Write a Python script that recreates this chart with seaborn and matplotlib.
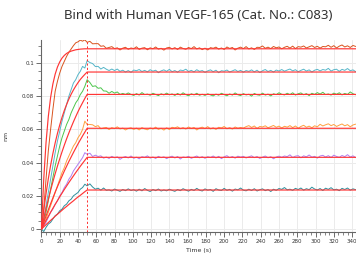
import numpy as np
import pandas as pd
import matplotlib
matplotlib.use("Agg")
import matplotlib.pyplot as plt
from matplotlib.ticker import MultipleLocator, FuncFormatter
import seaborn as sns

# ---------------- data ----------------
assoc_end = 50
t_assoc = np.arange(0, 50.01, 2.5)          # association sampling (s)
t_dis = np.arange(53, 345, 3)               # dissociation sampling (s)
t_end = 345

series_names = ["s1", "s2", "s3", "s4", "s5", "s6"]
series_colors = ["#d9531e", "#56b6c9", "#4cc64c", "#ffa040", "#b07ff0", "#2f8f9d"]

assoc_s1 = [0.000, 0.012, 0.030, 0.047, 0.060, 0.072, 0.083, 0.089, 0.094, 0.098, 0.101,
            0.104, 0.1065, 0.1085, 0.1105, 0.1122, 0.1128, 0.1138, 0.1132, 0.1140, 0.1125]
assoc_s2 = [0.000, 0.006, 0.014, 0.022, 0.030, 0.038, 0.046, 0.053, 0.059, 0.065, 0.070,
            0.075, 0.080, 0.084, 0.088, 0.090, 0.093, 0.095, 0.098, 0.097, 0.1015]
assoc_s3 = [0.000, 0.004, 0.010, 0.017, 0.024, 0.031, 0.038, 0.044, 0.050, 0.055, 0.059,
            0.063, 0.066, 0.070, 0.073, 0.076, 0.078, 0.081, 0.083, 0.086, 0.090]
assoc_s4 = [0.000, 0.002, 0.006, 0.010, 0.014, 0.018, 0.022, 0.026, 0.030, 0.034, 0.037,
            0.041, 0.044, 0.047, 0.050, 0.052, 0.055, 0.057, 0.060, 0.065, 0.063]
assoc_s5 = [0.000, 0.002, 0.004, 0.007, 0.010, 0.012, 0.015, 0.017, 0.020, 0.022, 0.025,
            0.027, 0.030, 0.032, 0.035, 0.037, 0.039, 0.041, 0.043, 0.046, 0.045]
assoc_s6 = [0.000, -0.0015, 0.001, 0.003, 0.004, 0.006, 0.008, 0.009, 0.011, 0.012, 0.014,
            0.015, 0.017, 0.018, 0.020, 0.021, 0.022, 0.024, 0.025, 0.027, 0.026]

dis_s1 = [.1131, .1116, .1117, .1117, .1101, .1104, .1089, .1094, .1099, .1087, .1092, .1079, .1090, .1095,
          .1083, .1091, .1087, .1098, .1082, .1090, .1093, .1080, .1092, .1086, .1097, .1084, .1089, .1078,
          .1091, .1095, .1085, .1093, .1082, .1096, .1088, .1083, .1094, .1087, .1099, .1085, .1092, .1081,
          .1090, .1079, .1093, .1089, .1096, .1084, .1091, .1082, .1097, .1088, .1094, .1079, .1090, .1096,
          .1087, .1099, .1085, .1092, .1082, .1095, .1094, .1103, .1089, .1096, .1087, .1100, .1092, .1097,
          .1086, .1095, .1101, .1090, .1102, .1087, .1099, .1096, .1103, .1091, .1098, .1105, .1094, .1101,
          .1090, .1100, .1098, .1107, .1095, .1105, .1091, .1102, .1109, .1097, .1104, .1094, .1106, .1100]
dis_s2 = [.1003, .0997, .0979, .0980, .0964, .0974, .0963, .0955, .0964, .0955, .0964, .0950, .0957, .0946,
          .0955, .0944, .0958, .0954, .0961, .0949, .0956, .0947, .0960, .0951, .0957, .0942, .0953, .0959,
          .0950, .0962, .0948, .0955, .0945, .0958, .0954, .0963, .0949, .0956, .0947, .0960, .0950, .0955,
          .0944, .0953, .0959, .0948, .0957, .0942, .0954, .0951, .0958, .0946, .0953, .0960, .0949, .0956,
          .0945, .0955, .0950, .0959, .0947, .0957, .0943, .0954, .0961, .0949, .0956, .0946, .0958, .0952,
          .0961, .0951, .0958, .0964, .0953, .0960, .0948, .0956, .0963, .0952, .0959, .0946, .0957, .0962,
          .0953, .0961, .0957, .0968, .0952, .0960, .0963, .0950, .0962, .0956, .0967, .0954, .0959, .0948]
dis_s3 = [.0883, .0859, .0863, .0848, .0851, .0832, .0831, .0818, .0829, .0819, .0826, .0811, .0817, .0811,
          .0820, .0811, .0805, .0816, .0807, .0822, .0810, .0813, .0806, .0818, .0811, .0804, .0815, .0808,
          .0819, .0809, .0814, .0805, .0817, .0807, .0821, .0810, .0803, .0815, .0808, .0818, .0806, .0812,
          .0805, .0815, .0808, .0802, .0813, .0806, .0818, .0810, .0803, .0814, .0807, .0820, .0809, .0804,
          .0816, .0808, .0812, .0801, .0817, .0809, .0806, .0819, .0807, .0813, .0802, .0815, .0810, .0821,
          .0812, .0808, .0818, .0810, .0821, .0807, .0815, .0820, .0809, .0816, .0804, .0818, .0811, .0822,
          .0813, .0824, .0810, .0814, .0807, .0819, .0812, .0821, .0808, .0817, .0811, .0826, .0815, .0809]
dis_s4 = [.0630, .0628, .0617, .0623, .0604, .0609, .0612, .0599, .0611, .0605, .0616, .0603, .0608, .0597,
          .0606, .0610, .0600, .0608, .0597, .0611, .0603, .0598, .0609, .0602, .0614, .0600, .0607, .0596,
          .0610, .0599, .0613, .0609, .0616, .0604, .0611, .0602, .0615, .0606, .0612, .0597, .0608, .0614,
          .0605, .0617, .0603, .0610, .0600, .0613, .0609, .0618, .0604, .0611, .0602, .0615, .0607, .0612,
          .0608, .0617, .0623, .0612, .0621, .0606, .0618, .0615, .0622, .0610, .0617, .0624, .0613, .0620,
          .0609, .0619, .0614, .0623, .0611, .0621, .0607, .0618, .0625, .0613, .0620, .0610, .0622, .0616,
          .0631, .0621, .0628, .0634, .0623, .0630, .0618, .0626, .0633, .0622, .0629, .0616, .0627, .0632]
dis_s5 = [.0457, .0437, .0445, .0437, .0441, .0427, .0434, .0425, .0438, .0429, .0435, .0420, .0431, .0437,
          .0428, .0440, .0426, .0433, .0423, .0436, .0432, .0441, .0427, .0434, .0425, .0438, .0430, .0435,
          .0424, .0433, .0439, .0428, .0437, .0422, .0434, .0431, .0438, .0426, .0433, .0440, .0429, .0436,
          .0426, .0436, .0431, .0440, .0428, .0438, .0424, .0435, .0442, .0430, .0437, .0427, .0439, .0433,
          .0438, .0428, .0435, .0441, .0430, .0437, .0425, .0433, .0440, .0429, .0436, .0423, .0434, .0439,
          .0432, .0440, .0436, .0447, .0431, .0439, .0442, .0429, .0441, .0435, .0446, .0433, .0438, .0427,
          .0440, .0444, .0434, .0442, .0431, .0445, .0437, .0432, .0443, .0436, .0448, .0434, .0441, .0430]
dis_s6 = [.0272, .0253, .0240, .0246, .0234, .0247, .0233, .0236, .0229, .0241, .0234, .0227, .0238, .0231,
          .0242, .0232, .0237, .0228, .0240, .0230, .0244, .0233, .0226, .0238, .0231, .0241, .0229, .0235,
          .0230, .0240, .0233, .0227, .0238, .0231, .0243, .0235, .0228, .0239, .0232, .0245, .0234, .0229,
          .0242, .0234, .0238, .0227, .0243, .0235, .0232, .0245, .0233, .0239, .0228, .0241, .0236, .0247,
          .0234, .0230, .0240, .0232, .0243, .0229, .0237, .0242, .0231, .0238, .0226, .0240, .0233, .0244,
          .0239, .0250, .0236, .0240, .0233, .0245, .0238, .0247, .0234, .0243, .0237, .0252, .0241, .0235,
          .0244, .0232, .0246, .0239, .0249, .0236, .0240, .0231, .0245, .0238, .0247, .0234, .0242, .0237]

fit_s1 = [0.0, 0.0302, 0.0520, 0.0678, 0.0792, 0.0874, 0.0933, 0.0976, 0.1007, 0.1030, 0.1046,
          0.1058, 0.1066, 0.1072, 0.1076, 0.1080, 0.1082, 0.1084, 0.1085, 0.1086, 0.1086]
fit_s2 = [0.0, 0.0112, 0.0213, 0.0303, 0.0383, 0.0455, 0.0519, 0.0576, 0.0627, 0.0673, 0.0714,
          0.0750, 0.0783, 0.0812, 0.0838, 0.0861, 0.0882, 0.0901, 0.0917, 0.0932, 0.0946]
fit_s3 = [0.0, 0.0063, 0.0122, 0.0179, 0.0233, 0.0284, 0.0333, 0.0379, 0.0423, 0.0465, 0.0505,
          0.0543, 0.0579, 0.0613, 0.0646, 0.0677, 0.0707, 0.0735, 0.0761, 0.0787, 0.0811]
fit_s4 = [0.0, 0.0040, 0.0078, 0.0116, 0.0152, 0.0187, 0.0222, 0.0255, 0.0287, 0.0318, 0.0349,
          0.0378, 0.0407, 0.0434, 0.0461, 0.0487, 0.0513, 0.0537, 0.0561, 0.0584, 0.0607]
fit_s5 = [0.0, 0.0026, 0.0051, 0.0076, 0.0101, 0.0125, 0.0148, 0.0171, 0.0194, 0.0216, 0.0238,
          0.0259, 0.0280, 0.0300, 0.0320, 0.0340, 0.0359, 0.0378, 0.0396, 0.0414, 0.0432]
fit_s6 = [0.0, 0.0013, 0.0026, 0.0039, 0.0052, 0.0064, 0.0077, 0.0089, 0.0101, 0.0113, 0.0125,
          0.0136, 0.0148, 0.0159, 0.0170, 0.0182, 0.0193, 0.0203, 0.0214, 0.0225, 0.0235]

x_ticks = [0, 20, 40, 60, 80, 100, 120, 140, 160, 180, 200, 220, 240, 260, 280, 300, 320, 340]
y_ticks = [0, 0.02, 0.04, 0.06, 0.08, 0.1]

title = "Bind with Human VEGF-165 (Cat. No.: C083)"
x_label = "Time (s)"
y_label = "nm"

# ---------------- build tables ----------------
assoc = [assoc_s1, assoc_s2, assoc_s3, assoc_s4, assoc_s5, assoc_s6]
dis = [dis_s1, dis_s2, dis_s3, dis_s4, dis_s5, dis_s6]
fits = [fit_s1, fit_s2, fit_s3, fit_s4, fit_s5, fit_s6]

rows = []
for name, a, d in zip(series_names, assoc, dis):
    for t, v in zip(t_assoc, a):
        rows.append((name, t, v))
    for t, v in zip(t_dis, d):
        rows.append((name, t, v))
df = pd.DataFrame(rows, columns=["series", "time", "value"])

frows = []
for name, f in zip(series_names, fits):
    for t, v in zip(t_assoc, f):
        frows.append((name, t, v))
    frows.append((name, t_end, f[-1]))
fdf = pd.DataFrame(frows, columns=["series", "time", "value"])

# ---------------- plot ----------------
sns.set_style("white")
plt.rcParams["font.family"] = ["DejaVu Sans"]

fig = plt.figure(figsize=(3.56, 2.60), dpi=100)
ax = fig.add_axes([41 / 356, 28 / 260, 315 / 356, 192 / 260])

sns.lineplot(data=df, x="time", y="value", hue="series", palette=series_colors,
             estimator=None, sort=False, lw=0.7, legend=False, ax=ax, zorder=2)
sns.lineplot(data=fdf, x="time", y="value", units="series", color="#ff3535",
             estimator=None, sort=False, lw=0.85, legend=False, ax=ax, zorder=3)
ax.axvline(assoc_end, color="#ff3030", lw=0.7, ls=(0, (2.2, 2.2)), zorder=4)

ax.set_xlim(-0.5, 344.3)
ax.set_ylim(-0.0018, 0.1139)
ax.set_xticks(x_ticks)
ax.set_yticks(y_ticks)
ax.xaxis.set_minor_locator(MultipleLocator(5))
ax.yaxis.set_minor_locator(MultipleLocator(0.005))
ax.yaxis.set_major_formatter(FuncFormatter(lambda v, p: "0" if abs(v) < 1e-9 else f"{v:g}"))

ax.grid(True, which="major", color="#ebebeb", lw=0.7)
ax.set_axisbelow(True)
for s in ["top", "right"]:
    ax.spines[s].set_visible(False)
for s in ["left", "bottom"]:
    ax.spines[s].set_color("#666666")
    ax.spines[s].set_linewidth(0.8)

ax.tick_params(which="major", length=3.5, width=0.6, color="#555555",
               labelsize=4.0, labelcolor="#333333", pad=1.5)
ax.tick_params(which="minor", length=2.2, width=0.5, color="#555555")
ax.tick_params(axis="x", which="both", bottom=True)
ax.tick_params(axis="y", which="both", left=True)

ax.set_xlabel(x_label, fontsize=4.5, color="#333333", labelpad=3)
ax.set_ylabel(y_label, fontsize=4.5, color="#333333", labelpad=10)
fig.text(198.5 / 356, 1 - 15.5 / 260, title, ha="center", va="center",
         fontsize=9.5, color="#333333", family=["Noto Sans", "DejaVu Sans"])

fig.savefig("out.png", dpi=100)
